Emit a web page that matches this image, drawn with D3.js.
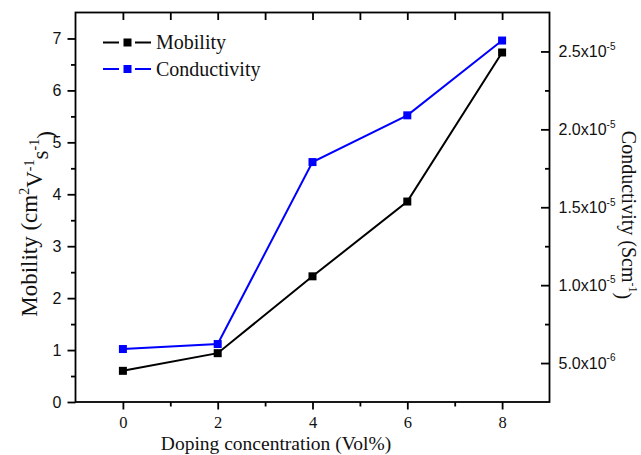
<!DOCTYPE html>
<html>
<head>
<meta charset="utf-8">
<script src="https://cdn.jsdelivr.net/npm/d3@7/dist/d3.min.js"></script>
<style>
  html, body { margin: 0; padding: 0; background: #fff; }
  svg { display: block; }
  .serif { font-family: "Liberation Serif", "Times New Roman", serif; }
  .sans { font-family: "Liberation Sans", Arial, sans-serif; }
</style>
</head>
<body>
<svg id="chart" width="641" height="455"></svg>
<script>
// Doping concentration (Vol%)
const doping = [0, 2, 4, 6, 8];
// Mobility (cm^2 V^-1 s^-1)
const mobility = [0.60, 0.94, 2.42, 3.86, 6.73];
// Conductivity (S cm^-1)
const conductivity = [5.90e-6, 6.22e-6, 1.79e-5, 2.09e-5, 2.57e-5];

const xTicks = [0, 2, 4, 6, 8];
const leftTicks = [0, 1, 2, 3, 4, 5, 6, 7];
const rightTicks = [5e-6, 1e-5, 1.5e-5, 2e-5, 2.5e-5];
const rightTickMantissa = ["5.0", "1.0", "1.5", "2.0", "2.5"];
const rightTickExponent = ["-6", "-5", "-5", "-5", "-5"];

const svg = d3.select("#chart");
const L = 75.5, R = 549.5, T = 12.5, B = 402;

const x = d3.scaleLinear().domain([-1, 9]).range([L, R]);
const yL = d3.scaleLinear().domain([0, 7.5]).range([B, T]);
const yR = d3.scaleLinear().domain([2.5e-6, 2.75e-5]).range([B, T]);

const axisW = 1.8;

// bottom axis: majors with labels, minors in between
const gB = svg.append("g").attr("transform", `translate(0,${B})`);
gB.call(d3.axisBottom(x).tickValues(xTicks).tickSize(7.5).tickFormat(d3.format("d")))
  .call(g => g.select(".domain").remove());
gB.append("g").call(d3.axisBottom(x).tickValues([1, 3, 5, 7]).tickSize(4.5).tickFormat(""))
  .call(g => g.select(".domain").remove());
gB.selectAll("line").attr("stroke", "#000").attr("stroke-width", axisW);
gB.selectAll("text").attr("class", "serif").attr("font-size", 16.5).attr("fill", "#111")
  .attr("dy", 0).attr("y", 26);

// top axis: inward ticks at every unit
const gT = svg.append("g").attr("transform", `translate(0,${T})`);
gT.call(d3.axisBottom(x).tickValues(d3.range(0, 9)).tickSize(7.5).tickFormat(""))
  .call(g => g.select(".domain").remove());
gT.selectAll("line").attr("stroke", "#000").attr("stroke-width", axisW);

// left axis
const gL = svg.append("g").attr("transform", `translate(${L},0)`);
gL.call(d3.axisLeft(yL).tickValues(leftTicks).tickSize(8).tickPadding(6).tickFormat(d3.format("d")))
  .call(g => g.select(".domain").remove());
gL.append("g").call(d3.axisLeft(yL).tickValues(d3.range(0.5, 7, 1)).tickSize(4.5).tickFormat(""))
  .call(g => g.select(".domain").remove());
gL.selectAll("line").attr("stroke", "#000").attr("stroke-width", axisW);
gL.selectAll("text").attr("class", "sans").attr("font-size", 16).attr("fill", "#111");

// right axis: inward ticks, scientific labels
const gR = svg.append("g").attr("transform", `translate(${R},0)`);
gR.call(d3.axisLeft(yR).tickValues(rightTicks).tickSize(8.5).tickFormat(""))
  .call(g => g.select(".domain").remove());
gR.append("g").call(d3.axisLeft(yR).tickValues([7.5e-6, 1.25e-5, 1.75e-5, 2.25e-5]).tickSize(4.5).tickFormat(""))
  .call(g => g.select(".domain").remove());
gR.selectAll("line").attr("stroke", "#000").attr("stroke-width", axisW);
const rl = gR.selectAll("text.rlab").data(rightTicks).enter().append("text")
  .attr("class", "rlab sans").attr("font-size", 16).attr("fill", "#111")
  .attr("text-anchor", "start")
  .attr("x", 9).attr("y", d => yR(d)).attr("dy", "0.36em");
rl.append("tspan").text((d, i) => rightTickMantissa[i] + "x10");
rl.append("tspan").attr("font-size", 10).attr("dy", "-0.75em").text((d, i) => rightTickExponent[i]);

// frame
svg.append("rect").attr("x", L).attr("y", T).attr("width", R - L).attr("height", B - T)
  .attr("fill", "none").attr("stroke", "#000").attr("stroke-width", axisW);

// series
const series = [
  { name: "Mobility", values: mobility, y: yL, color: "#000000" },
  { name: "Conductivity", values: conductivity, y: yR, color: "#0000ff" }
];

series.forEach(s => {
  const pts = doping.map((d, i) => [x(d), s.y(s.values[i])]);
  svg.append("path").attr("d", d3.line()(pts)).attr("fill", "none")
    .attr("stroke", s.color).attr("stroke-width", 2);
  svg.append("g").selectAll("rect").data(pts).enter().append("rect")
    .attr("x", p => p[0] - 4).attr("y", p => p[1] - 4)
    .attr("width", 8).attr("height", 8).attr("fill", s.color);
});

// legend
const leg = svg.append("g");
series.forEach((s, i) => {
  const cy = 42.5 + i * 26.5;
  leg.append("line").attr("x1", 103).attr("x2", 119).attr("y1", cy).attr("y2", cy)
    .attr("stroke", s.color).attr("stroke-width", 2);
  leg.append("line").attr("x1", 135).attr("x2", 151).attr("y1", cy).attr("y2", cy)
    .attr("stroke", s.color).attr("stroke-width", 2);
  leg.append("rect").attr("x", 123.5).attr("y", cy - 4).attr("width", 8).attr("height", 8)
    .attr("fill", s.color);
  leg.append("text").attr("class", "serif").attr("font-size", 20).attr("fill", "#111")
    .attr("x", 156).attr("y", cy + 6.5).text(s.name);
});

// axis titles
svg.append("text").attr("class", "serif").attr("font-size", 19.5).attr("fill", "#111")
  .attr("x", 276).attr("y", 450).attr("text-anchor", "middle")
  .text("Doping concentration (Vol%)");

const lt = svg.append("text").attr("class", "serif").attr("font-size", 23).attr("fill", "#111")
  .attr("text-anchor", "middle")
  .attr("transform", "translate(37,224) rotate(-90)");
lt.append("tspan").text("Mobility (cm");
lt.append("tspan").attr("font-size", 14).attr("dy", "-0.6em").text("2");
lt.append("tspan").attr("dy", "0.6em").text("V");
lt.append("tspan").attr("font-size", 14).attr("dy", "-0.6em").text("-1");
lt.append("tspan").attr("dy", "0.6em").text("s");
lt.append("tspan").attr("font-size", 14).attr("dy", "-0.6em").text("-1");
lt.append("tspan").attr("dy", "0.6em").text(")");

const rt = svg.append("text").attr("class", "serif").attr("font-size", 20).attr("fill", "#111")
  .attr("text-anchor", "middle")
  .attr("transform", "translate(622,215) rotate(90)");
rt.append("tspan").text("Conductivity (Scm");
rt.append("tspan").attr("font-size", 12).attr("dy", "-0.6em").text("-1");
rt.append("tspan").attr("dy", "0.6em").text(")");
</script>
</body>
</html>
